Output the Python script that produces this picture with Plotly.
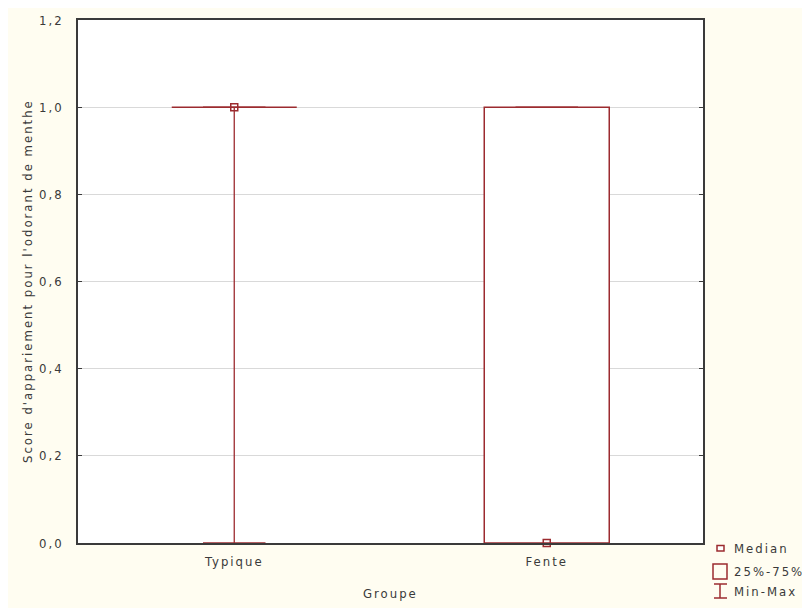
import plotly.graph_objects as go

# ---- data ----
groups = ["Typique", "Fente"]
medians = [1.0, 0.0]
q1 = [1.0, 0.0]
q3 = [1.0, 1.0]
vmin = [0.0, 0.0]
vmax = [1.0, 1.0]
y_ticks = [0.0, 0.2, 0.4, 0.6, 0.8, 1.0, 1.2]
y_tick_labels = ["0,0", "0,2", "0,4", "0,6", "0,8", "1,0", "1,2"]
legend_labels = ["Median", "25%-75%", "Min-Max"]

W, H = 810, 608
OFF = 8  # page body margin
PL, PR, PT, PB = 78 - OFF, 703 - OFF, 20 - OFF, 543 - OFF  # plot area in figure pixels
RED = "#9C2B2F"
TXT = "#3A3A3A"
FONT = "Liberation Sans Narrow, DejaVu Sans Condensed, Arial Narrow, sans-serif"
BOX_W = 0.4
CAP_W = 0.2


def sp(t, ls=2):
    return '<span style="letter-spacing:%dpx">%s</span>' % (ls, t)


fig = go.Figure()

for i, g in enumerate(groups):
    # whisker
    fig.add_trace(go.Scatter(x=[i, i], y=[vmin[i], vmax[i]], mode="lines",
                             line=dict(color=RED, width=1.3), showlegend=False, hoverinfo="skip"))
    # caps
    for v in (vmin[i], vmax[i]):
        fig.add_trace(go.Scatter(x=[i - CAP_W / 2, i + CAP_W / 2], y=[v, v], mode="lines",
                                 line=dict(color=RED, width=1.5), showlegend=False, hoverinfo="skip"))
    # box
    x0, x1 = i - BOX_W / 2, i + BOX_W / 2
    fig.add_trace(go.Scatter(x=[x0, x1, x1, x0, x0], y=[q1[i], q1[i], q3[i], q3[i], q1[i]],
                             mode="lines", fill="toself", fillcolor="rgba(255,255,255,1)",
                             line=dict(color=RED, width=1.5), showlegend=False, hoverinfo="skip"))
    # median
    fig.add_trace(go.Scatter(x=[i], y=[medians[i]], mode="markers",
                             marker=dict(symbol="square-open", size=7, color=RED,
                                         line=dict(width=1.5, color=RED)),
                             showlegend=False, cliponaxis=False, hoverinfo="skip"))


def px(x):
    return (x - OFF) / W


def py(y):
    return 1 - (y - OFF) / H


shapes = []
annotations = []
# legend (page pixel positions)
shapes.append(dict(type="rect", xref="paper", yref="paper", x0=px(717), x1=px(724), y0=py(551), y1=py(545.5),
                   line=dict(color=RED, width=1.5), fillcolor="white"))
shapes.append(dict(type="rect", xref="paper", yref="paper", x0=px(713), x1=px(727), y0=py(579), y1=py(564),
                   line=dict(color=RED, width=1.5), fillcolor="rgba(0,0,0,0)"))
shapes.append(dict(type="line", xref="paper", yref="paper", x0=px(720), x1=px(720), y0=py(598), y1=py(584),
                   line=dict(color=RED, width=1.5)))
shapes.append(dict(type="line", xref="paper", yref="paper", x0=px(714), x1=px(727), y0=py(598), y1=py(598),
                   line=dict(color=RED, width=1.5)))
shapes.append(dict(type="line", xref="paper", yref="paper", x0=px(714), x1=px(727), y0=py(584), y1=py(584),
                   line=dict(color=RED, width=1.5)))
for lab, yy in zip(legend_labels, [548, 571, 591]):
    annotations.append(dict(text=sp(lab), xref="paper", yref="paper", x=px(732), y=py(yy),
                            xanchor="left", yanchor="middle", showarrow=False,
                            font=dict(family=FONT, size=13, color=TXT)))
# axis titles
annotations.append(dict(text=sp("Score d'appariement pour l'odorant de menthe"), xref="paper", yref="paper",
                        x=px(27), y=py(281), textangle=-90, showarrow=False,
                        xanchor="center", yanchor="middle",
                        font=dict(family=FONT, size=13, color=TXT)))
annotations.append(dict(text=sp("Groupe"), xref="paper", yref="paper", x=px(390), y=py(593),
                        showarrow=False, xanchor="center", yanchor="middle",
                        font=dict(family=FONT, size=13, color=TXT)))

fig.update_layout(
    width=W, height=H,
    margin=dict(l=0, r=0, t=0, b=0, autoexpand=False),
    paper_bgcolor="#FFFDF1",
    plot_bgcolor="white",
    font=dict(family=FONT, size=13, color=TXT),
    shapes=shapes,
    annotations=annotations,
    xaxis=dict(domain=[PL / W, PR / W], range=[-0.5, 1.5], tickmode="array",
               tickvals=list(range(len(groups))), ticktext=[sp(g) for g in groups], ticks="",
               showgrid=False, zeroline=False, showline=True, linecolor="#3A3A3A",
               linewidth=1.5, mirror=True, ticklabelstandoff=6, automargin=False,
               tickfont=dict(family=FONT, size=13, color=TXT)),
    yaxis=dict(domain=[1 - PB / H, 1 - PT / H], range=[0, 1.2], tickmode="array",
               tickvals=y_ticks, ticktext=[sp(t) for t in y_tick_labels], ticks="inside", ticklen=4,
               tickcolor="#3A3A3A", showgrid=True, gridcolor="#D9D9D9", gridwidth=1,
               zeroline=False, showline=True, linecolor="#3A3A3A", linewidth=1.5,
               mirror="ticks", ticklabelstandoff=10, automargin=False,
               tickfont=dict(family=FONT, size=13, color=TXT)),
    showlegend=False,
)

fig.write_html("out.html")
